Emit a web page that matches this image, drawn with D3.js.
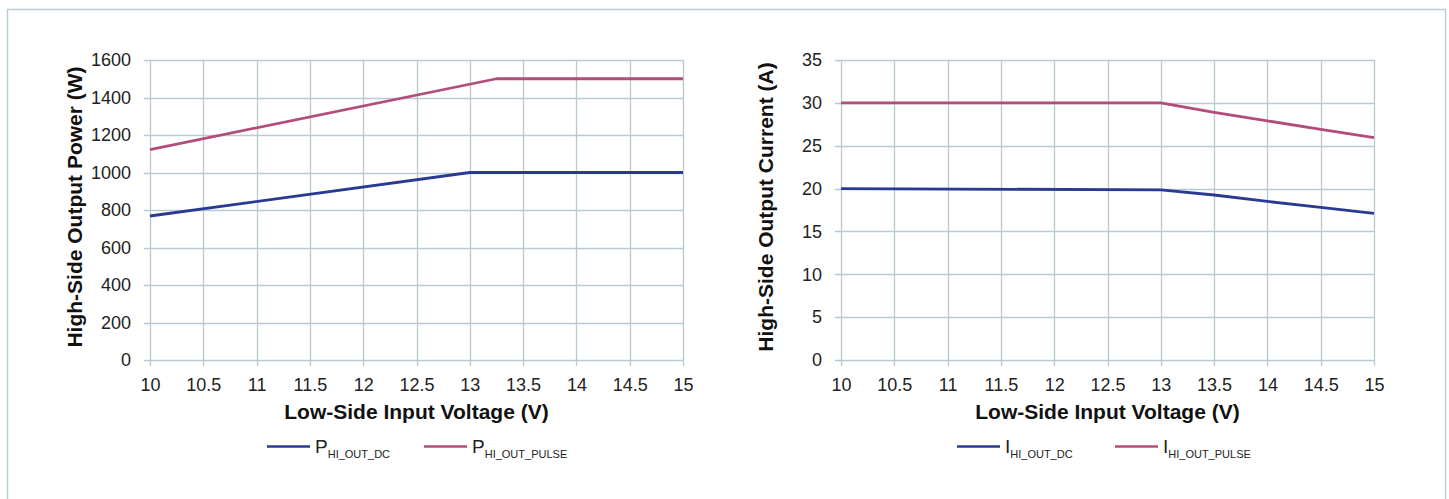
<!DOCTYPE html>
<html><head><meta charset="utf-8">
<script src="https://cdn.jsdelivr.net/npm/d3@7/dist/d3.min.js"></script>
<style>body{margin:0;background:#fff;}svg{display:block;font-family:"Liberation Sans",Arial,sans-serif;}</style>
</head><body><svg id="c" width="1449" height="499"></svg>
<script>
const voltages = [10, 13, 15];
const powerDC = [768, 1000, 1000];
const pulseVoltages = [10, 13.25, 15];
const powerPulse = [1122, 1500, 1500];
const curVoltages = [10, 13, 13.5, 14, 14.5, 15];
const currentDC = [20.0, 19.85, 19.25, 18.5, 17.8, 17.1];
const currentPulse = [30, 30, 28.9, 27.9, 26.9, 25.95];
const xTicks = [10, 10.5, 11, 11.5, 12, 12.5, 13, 13.5, 14, 14.5, 15];
const powerTicks = [0, 200, 400, 600, 800, 1000, 1200, 1400, 1600];
const currentTicks = [0, 5, 10, 15, 20, 25, 30, 35];

const BLUE = "#2a3a92", PINK = "#b34b7c", GRID = "#b7c9d1";
const svg = d3.select("#c");
svg.append("rect").attr("x", 7.5).attr("y", 9.5).attr("width", 1438).attr("height", 520)
  .attr("fill", "none").attr("stroke", "#b9cfd6").attr("stroke-width", 1.5);

function chart(opt) {
  const g = svg.append("g");
  const x = d3.scaleLinear().domain([10, 15]).range([opt.x0, opt.x0 + 533]);
  const y = d3.scaleLinear().domain([0, opt.ymax]).range([360, 60]);
  // grid
  g.selectAll(".hg").data(opt.yTicks).join("line")
    .attr("x1", x(10) - 6).attr("x2", x(15)).attr("y1", d => Math.round(y(d)) + 0.5).attr("y2", d => Math.round(y(d)) + 0.5)
    .attr("stroke", GRID).attr("stroke-width", 1.3);
  g.selectAll(".vg").data(xTicks).join("line")
    .attr("x1", d => Math.round(x(d)) + 0.5).attr("x2", d => Math.round(x(d)) + 0.5).attr("y1", 60).attr("y2", 366)
    .attr("stroke", GRID).attr("stroke-width", 1.3);
  // axes labels
  const ya = d3.axisLeft(y).tickValues(opt.yTicks).tickSize(0).tickPadding(0).tickFormat(d => String(d));
  const ga = g.append("g").attr("transform", `translate(${x(10) - 19},0)`).call(ya);
  ga.select(".domain").remove();
  ga.selectAll("text").attr("font-size", 18).attr("fill", "#222").attr("font-family", "Liberation Sans, Arial");
  const xa = d3.axisBottom(x).tickValues(xTicks).tickSize(0).tickPadding(0).tickFormat(d => String(d));
  const gx = g.append("g").attr("transform", `translate(0,378)`).call(xa);
  gx.select(".domain").remove();
  gx.selectAll("text").attr("font-size", 18).attr("fill", "#222").attr("font-family", "Liberation Sans, Arial");
  // lines
  const line = d3.line().x(d => x(d[0])).y(d => y(d[1]));
  opt.series.forEach(s => {
    g.append("path").datum(s.xs.map((v, i) => [v, s.ys[i]])).attr("d", line)
      .attr("fill", "none").attr("stroke", s.color).attr("stroke-width", 2.8).attr("stroke-linejoin", "round");
  });
  // titles
  g.append("text").attr("transform", `translate(${opt.x0 - 68},207) rotate(-90)`).attr("text-anchor", "middle")
    .attr("font-size", 21).attr("font-weight", "bold").attr("fill", "#111").text(opt.yTitle);
  g.append("text").attr("x", x(12.5)).attr("y", 419).attr("text-anchor", "middle")
    .attr("font-size", 21).attr("font-weight", "bold").attr("fill", "#111").text("Low-Side Input Voltage (V)");
  // legend
  opt.series.forEach((s, i) => {
    const lx = opt.legX[i];
    g.append("line").attr("x1", lx).attr("x2", lx + 43).attr("y1", 446.5).attr("y2", 446.5)
      .attr("stroke", s.color).attr("stroke-width", 2.5);
    const t = g.append("text").attr("x", lx + 48).attr("y", 453).attr("font-size", 19).attr("fill", "#222");
    t.append("tspan").text(opt.sym);
    t.append("tspan").attr("dy", 5).attr("font-size", 11).text(s.sub);
  });
}

chart({x0: 150, ymax: 1600, yTicks: powerTicks, yTitle: "High-Side Output Power (W)", sym: "P",
  legX: [267, 424],
  series: [{xs: voltages, ys: powerDC, color: BLUE, sub: "HI_OUT_DC"},
           {xs: pulseVoltages, ys: powerPulse, color: PINK, sub: "HI_OUT_PULSE"}]});
chart({x0: 841, ymax: 35, yTicks: currentTicks, yTitle: "High-Side Output Current (A)", sym: "I",
  legX: [957, 1115],
  series: [{xs: curVoltages, ys: currentDC, color: BLUE, sub: "HI_OUT_DC"},
           {xs: curVoltages, ys: currentPulse, color: PINK, sub: "HI_OUT_PULSE"}]});
</script></body></html>
